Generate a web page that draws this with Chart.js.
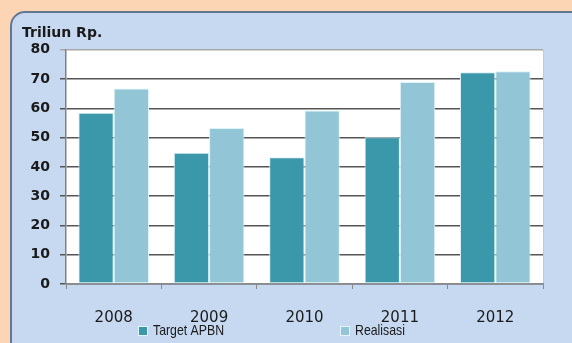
<!DOCTYPE html>
<html>
<head>
<meta charset="utf-8">
<script src="https://cdn.jsdelivr.net/npm/chart.js@4.4.0/dist/chart.umd.min.js"></script>
<style>
  html, body { margin: 0; padding: 0; overflow: hidden; }
  body { width: 572px; height: 343px; background: #fcd5b4; }
  canvas { display: block; }
</style>
</head>
<body>
<canvas id="danaChart" width="572" height="343"></canvas>
<script>
const years = ['2008', '2009', '2010', '2011', '2012'];
const targetApbn = [58.5, 44.8, 43.3, 50.1, 72.3];
const realisasi = [66.8, 53.3, 59.3, 69.0, 72.7];
const yMin = 0, yMax = 80, yStep = 10;

// orange page, light blue panel with a rounded top-left corner, white plot area
const backdrop = {
  id: 'backdrop',
  beforeDraw(chart) {
    const a = chart.chartArea, ctx = chart.ctx;
    const w = chart.width, h = chart.height;
    ctx.save();
    ctx.fillStyle = '#fcd5b4';
    ctx.fillRect(0, 0, w, h);

    const px = 11, py = 12, r = 14, pb = h + 14;
    ctx.beginPath();
    ctx.moveTo(px, pb - r);
    ctx.lineTo(px, py + r);
    ctx.arcTo(px, py, px + r, py, r);
    ctx.lineTo(w + 10, py);
    ctx.lineTo(w + 10, pb);
    ctx.lineTo(px + r, pb);
    ctx.arcTo(px, pb, px, pb - r, r);
    ctx.closePath();
    ctx.fillStyle = '#c6d9f0';
    ctx.fill();
    ctx.lineWidth = 2;
    ctx.strokeStyle = '#627892';
    ctx.stroke();

    ctx.fillStyle = '#ffffff';
    ctx.fillRect(a.left, a.top, a.right - a.left, a.bottom - a.top);
    ctx.strokeStyle = '#c8c8c8';
    ctx.lineWidth = 1;
    ctx.beginPath();
    ctx.moveTo(a.right + 0.5, a.top);
    ctx.lineTo(a.right + 0.5, a.bottom);
    ctx.stroke();
    ctx.restore();
  }
};

// legend sits under the year labels, items spread apart
const legendBelow = {
  id: 'legendBelow',
  afterDraw(chart) {
    const ctx = chart.ctx;
    const spots = [138, 340];
    ctx.save();
    ctx.textBaseline = 'middle';
    chart.data.datasets.forEach((ds, i) => {
      const x = spots[i];
      ctx.fillStyle = ds.backgroundColor;
      ctx.fillRect(x, 326, 10, 10);
      ctx.strokeStyle = '#e4f4f8';
      ctx.lineWidth = 1;
      ctx.strokeRect(x + 0.5, 326.5, 9, 9);
      // narrow lettering
      ctx.save();
      ctx.translate(x + 15, 331);
      ctx.scale(0.82, 1);
      ctx.font = "15px 'Liberation Sans'";
      ctx.fillStyle = '#1a1a1a';
      ctx.fillText(ds.label, 0, 0);
      ctx.restore();
    });
    ctx.restore();
  }
};

new Chart(document.getElementById('danaChart'), {
  type: 'bar',
  data: {
    labels: years,
    datasets: [
      { label: 'Target APBN', data: targetApbn, backgroundColor: '#3b97aa',
        borderColor: '#d6eef4', borderWidth: 1, borderSkipped: false },
      { label: 'Realisasi', data: realisasi, backgroundColor: '#92c5d6',
        borderColor: '#dcf3f8', borderWidth: 1, borderSkipped: false }
    ]
  },
  options: {
    responsive: false,
    animation: false,
    devicePixelRatio: 1,
    categoryPercentage: 0.74,
    barPercentage: 1,
    layout: { padding: { left: 22, right: 29, top: 0, bottom: 0 } },
    plugins: {
      legend: { display: false },
      tooltip: { enabled: false },
      title: {
        display: true,
        text: 'Triliun Rp.',
        align: 'start',
        color: '#1a1a1a',
        font: { family: 'DejaVu Sans', size: 14, weight: 'bold', lineHeight: 1.2 },
        padding: { top: 25, bottom: 8 }
      }
    },
    scales: {
      x: {
        grid: { display: true, drawOnChartArea: false, drawTicks: true, tickLength: 5, color: '#8a8a8a' },
        border: { display: true, color: '#8a8a8a', width: 1.5 },
        ticks: { color: '#1a1a1a', padding: 20, font: { family: 'DejaVu Sans', size: 15 } },
        afterFit(s) { s.height = 59; }
      },
      y: {
        min: yMin,
        max: yMax,
        ticks: { stepSize: yStep, color: '#1a1a1a', padding: 10,
                 font: { family: 'DejaVu Sans', size: 14, weight: 'bold' } },
        grid: {
          tickLength: 6,
          lineWidth: 1.5,
          color: c => (c.tick && c.tick.value === yMax) ? '#a8a8a8' : '#555555'
        },
        border: { display: true, color: '#808080', width: 1.5 },
        afterFit(s) { s.width = 44; }
      }
    }
  },
  plugins: [backdrop, legendBelow]
});
</script>
</body>
</html>
